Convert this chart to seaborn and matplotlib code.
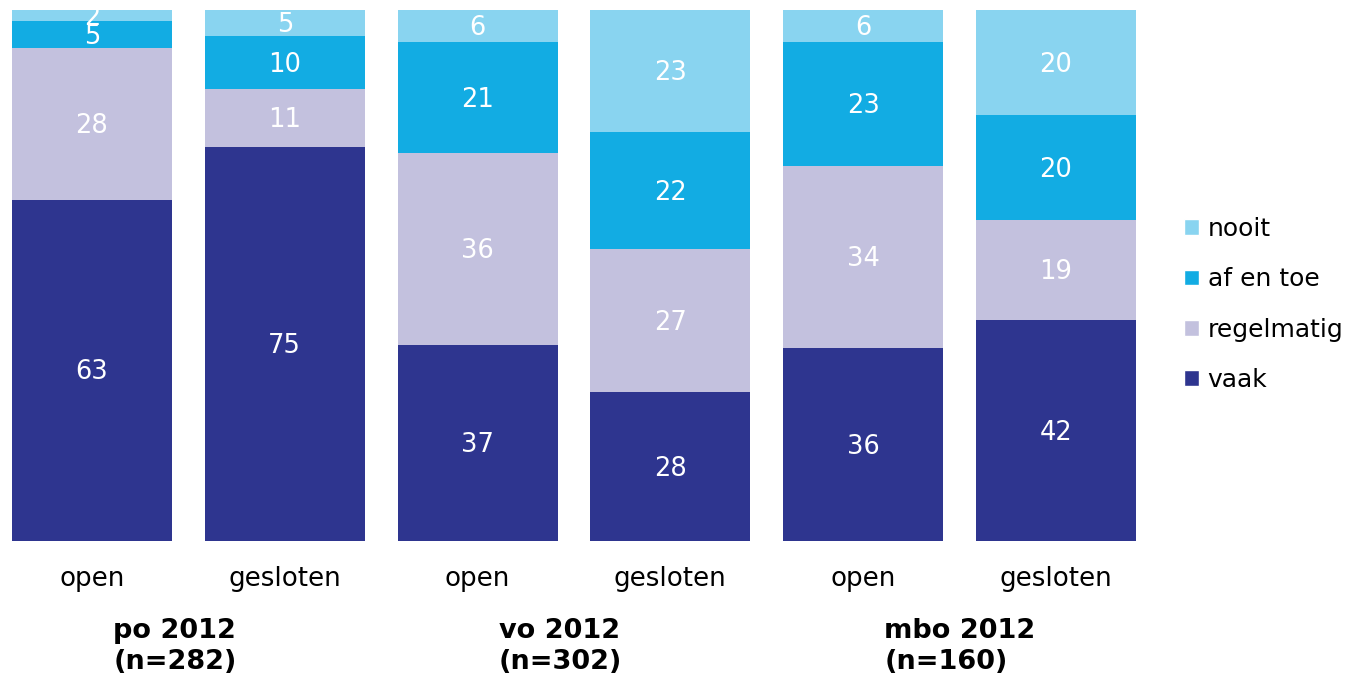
import numpy as np
import pandas as pd
import seaborn as sns
import matplotlib.pyplot as plt
from matplotlib.patches import Patch

# data
bars = ["po open", "po gesloten", "vo open", "vo gesloten", "mbo open", "mbo gesloten"]
bar_labels = ["open", "gesloten", "open", "gesloten", "open", "gesloten"]
groups = ["po 2012\n(n=282)", "vo 2012\n(n=302)", "mbo 2012\n(n=160)"]
categories = ["vaak", "regelmatig", "af en toe", "nooit"]
vaak = [63, 75, 37, 28, 36, 42]
regelmatig = [28, 11, 36, 27, 34, 19]
af_en_toe = [5, 10, 21, 22, 23, 20]
nooit = [2, 5, 6, 23, 6, 20]
colors = {"vaak": "#2E358F", "regelmatig": "#C3C1DE", "af en toe": "#12ACE3", "nooit": "#89D4F0"}

df = pd.DataFrame({"bar": bars, "vaak": vaak, "regelmatig": regelmatig,
                   "af en toe": af_en_toe, "nooit": nooit}).set_index("bar")
totals = df.sum(axis=1)
pct = df.div(totals, axis=0) * 100
cum = pct.cumsum(axis=1)

sns.set_style("white")
plt.rcParams['font.family'] = ['DejaVu Sans']
plt.rcParams['text.color'] = 'black'
plt.rcParams['xtick.color'] = 'black'

fig = plt.figure(figsize=(13.51, 6.75), dpi=100)
ax = fig.add_axes([0, (675 - 541) / 675, 1140 / 1351, 531 / 675])

# draw from top of stack downwards so each layer covers the one above
for cat in reversed(categories):
    sns.barplot(x=cum.index, y=cum[cat].values, color=colors[cat], width=0.83,
                saturation=1, ax=ax, linewidth=0)

# value labels
for i, b in enumerate(bars):
    lower = 0
    for cat in categories:
        h = pct.loc[b, cat]
        ax.text(i, lower + h / 2 - 0.4, str(df.loc[b, cat]), ha="center", va="center",
                color="white", fontsize=18.5, clip_on=True)
        lower += h

ax.set_ylim(0, 100)
ax.set_xlim(-0.477, -0.477 + 1140 / 192.8)
ax.set_xticks(range(len(bars)))
ax.set_xticklabels(bar_labels, fontsize=18.8)
ax.tick_params(axis="x", length=0, pad=18)
ax.set_yticks([])
ax.set_xlabel("")
ax.set_ylabel("")
sns.despine(ax=ax, left=True, bottom=True)

# group labels
for g, label in enumerate(groups):
    x = 2 * g + 0.11
    ax.text(x, -0.145, label, transform=ax.get_xaxis_transform(), ha="left", va="top",
            fontsize=19.5, fontweight="bold", linespacing=1.27)

handles = [Patch(facecolor=colors[c], label=c) for c in reversed(categories)]
fig.legend(handles=handles, loc="upper left", bbox_to_anchor=(1174 / 1351, 1 - 207 / 675),
           frameon=False, fontsize=18, handlelength=0.6, handleheight=0.6,
           handletextpad=0.35, labelspacing=1.05, borderaxespad=0)

fig.savefig("out.png", dpi=100)
